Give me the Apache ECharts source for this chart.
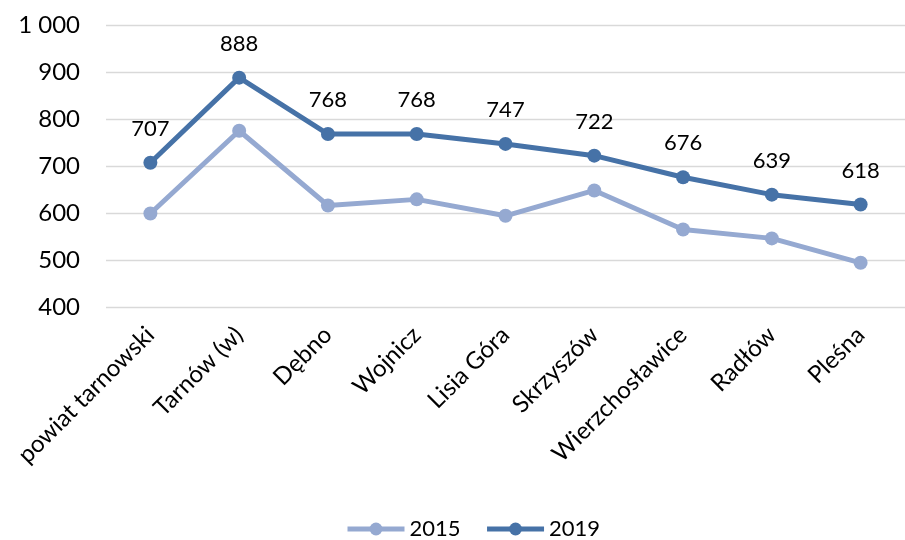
<!DOCTYPE html>
<html><head><meta charset="utf-8">
<script src="https://cdn.jsdelivr.net/npm/echarts@6/dist/echarts.min.js"></script>
<style>html,body{margin:0;padding:0;background:#fff}#c{width:905px;height:540px}</style>
</head><body><div id="c"></div>
<script>
const categories = ['powiat tarnowski','Tarnów (w)','Dębno','Wojnicz','Lisia Góra','Skrzyszów','Wierzchosławice','Radłów','Pleśna'];
const values2015 = [599, 775, 616, 629, 594, 648, 565, 546, 494];
const values2019 = [707, 888, 768, 768, 747, 722, 676, 639, 618];
const yTicks = { min: 400, max: 1000, interval: 100 };
const FONT = 'Lato, Carlito, "Liberation Sans", sans-serif';
const chart = echarts.init(document.getElementById('c'), null, {renderer:'canvas'});
chart.setOption({
  animation: false,
  backgroundColor: '#fff',
  grid: { left: 106, top: 25, width: 814, height: 282, containLabel: false },
  legend: {
    top: 518, left: 345, padding: 0, itemWidth: 57, itemHeight: 16, itemGap: 24,
    lineStyle: { width: 5 },
    textStyle: { fontFamily: FONT, fontSize: 22, color: '#000', padding: [0, 0, 0, 0] },
    data: ['2015','2019']
  },
  xAxis: {
    type: 'category', data: categories, boundaryGap: true,
    axisLine: { show: false }, axisTick: { show: false },
    axisLabel: { rotate: 45, margin: 24, fontFamily: FONT, fontSize: 24, color: '#000', interval: 0 }
  },
  yAxis: {
    type: 'value', min: yTicks.min, max: yTicks.max, interval: yTicks.interval,
    axisLine: { show: false }, axisTick: { show: false },
    splitLine: { lineStyle: { color: '#d9d9d9', width: 1.3 } },
    axisLabel: { margin: 26, fontFamily: FONT, fontSize: 24, color: '#000',
      formatter: v => String(v).replace(/\B(?=(\d{3})+(?!\d))/g, ' ') }
  },
  series: [
    { name: '2015', type: 'line', data: values2015, symbol: 'circle', symbolSize: 14,
      lineStyle: { width: 5, color: '#95a9d1' }, itemStyle: { color: '#95a9d1' } },
    { name: '2019', type: 'line', data: values2019, symbol: 'circle', symbolSize: 14,
      lineStyle: { width: 5, color: '#4672a7' }, itemStyle: { color: '#4672a7' },
      label: { show: true, position: 'top', distance: 16, fontFamily: FONT, fontSize: 22, color: '#000' } }
  ]
});
</script></body></html>
